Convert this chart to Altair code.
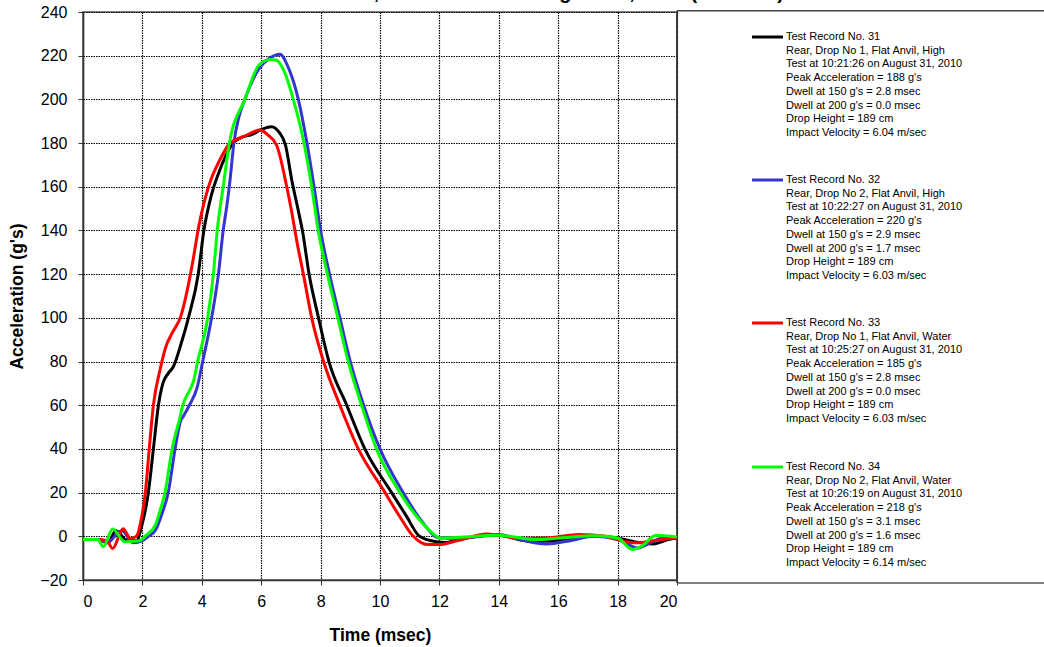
import altair as alt
import pandas as pd

# ---------------- data ----------------
t31 = [0, 0.5, 0.85, 1.1, 1.5, 1.8, 1.97, 2.2, 2.37, 2.54, 2.69, 2.87, 3.04, 3.3, 3.55, 3.88, 4.07, 4.3, 4.56,
       4.8, 5.05, 5.4, 5.7, 5.97, 6.35, 6.6, 6.82, 7.03, 7.25, 7.4, 7.6, 7.93, 8.28, 8.88, 9.49, 10.39, 10.9,
       11.33, 11.9, 12.2, 12.6, 14.0, 14.9, 15.6, 16.6, 17.4, 18.0, 18.5, 19.2, 19.7, 20.0]
a31 = [-1.5, -1.5, -3, 2.5, -2, -2, 4.4, 20, 40, 60, 70, 74.6, 77.6, 88, 100, 120, 140, 155, 166,
       174, 180, 182.9, 184, 186, 187.5, 185, 179, 163, 149, 139, 121, 100, 80, 60, 40, 20, 9,
       0, -2.5, -2.8, -1.5, 0.5, -2, -2.3, -0.5, 0, -0.8, -2.3, -3.5, -1.5, -0.8]

t32 = [0, 0.5, 0.8, 1.3, 1.7, 2.0, 2.2, 2.45, 2.65, 2.87, 3.1, 3.29, 3.38, 3.58, 3.84, 4.03, 4.33, 4.56, 4.72,
       4.84, 4.95, 5.08, 5.25, 5.45, 5.92, 6.3, 6.63, 6.9, 7.25, 7.54, 7.78, 8.0, 8.3, 8.65, 9.0, 9.45, 10.0,
       10.78, 11.4, 12.0, 12.6, 14.0, 14.7, 15.6, 16.4, 17.2, 18.0, 18.7, 19.1, 19.5, 20.0]
a32 = [-1.5, -1.5, -3, 2.5, -3, -2, 0, 3, 10, 20, 40, 53, 55, 60, 68, 80, 100, 120, 140,
       151, 163, 180, 192, 200, 214, 219, 220.7, 215, 200, 180, 160, 140, 120, 100, 80, 60, 40,
       20, 7, -0.8, -1, 0.8, -1.5, -3.5, -2, 0, -1.5, -5.3, -3, -0.8, -0.5]

t33 = [0, 0.5, 0.8, 1.0, 1.35, 1.6, 1.8, 1.95, 2.1, 2.23, 2.37, 2.59, 2.79, 3.0, 3.3, 3.5, 3.7, 3.9, 4.1,
       4.3, 4.56, 4.95, 5.4, 5.97, 6.2, 6.52, 6.86, 7.02, 7.2, 7.42, 7.7, 8.1, 8.65, 9.27, 10.17, 10.62,
       11.12, 11.6, 12.0, 12.6, 13.6, 14.0, 14.7, 15.6, 16.7, 17.6, 18.3, 18.7, 19.2, 20.0]
a33 = [-1.5, -1.5, -2, -5.6, 3.5, -1, 0, 7, 20, 40, 60, 76, 86.8, 93, 101, 112, 126, 142, 154,
       163, 171, 180, 182.9, 186, 184, 179, 160, 149, 135, 120, 100, 80, 60, 40, 20, 10,
       0, -3.8, -3.8, -2, 1, 0.5, -1, -0.8, 0.8, 0, -2.6, -3, -2, -0.5]

t34 = [0, 0.5, 0.68, 1.0, 1.4, 1.9, 2.13, 2.43, 2.6, 2.76, 3.0, 3.27, 3.36, 3.6, 3.72, 3.86, 4.2, 4.39, 4.52,
       4.72, 4.93, 5.45, 5.92, 6.3, 6.5, 6.8, 7.08, 7.44, 7.7, 7.92, 8.23, 8.58, 8.93, 9.38, 9.88, 10.67,
       11.3, 11.9, 12.0, 14.0, 15.3, 16.3, 17.2, 18.0, 18.5, 18.8, 19.3, 20.0]
a34 = [-1.5, -1.5, -4.8, 3.4, -2.5, -2, 0.5, 5, 12, 20, 40, 54.7, 60, 67, 71, 80, 100, 120, 140,
       160, 180, 200, 215.6, 218.3, 218, 212, 200, 180, 160, 140, 120, 100, 80, 60, 40, 20,
       8, 0, -0.8, 0.5, -1.5, -0.5, 0.3, -0.8, -6, -4.6, 0.5, -0.3]

records = ["31", "32", "33", "34"]
colors = ["#000000", "#3535D0", "#FF0000", "#00FF00"]

legend_lines = [
    ["Test Record No. 31", "Rear, Drop No 1, Flat Anvil, High", "Test at 10:21:26 on August 31, 2010",
     "Peak Acceleration = 188 g's", "Dwell at 150 g's = 2.8 msec", "Dwell at 200 g's = 0.0 msec",
     "Drop Height = 189 cm", "Impact Velocity = 6.04 m/sec"],
    ["Test Record No. 32", "Rear, Drop No 2, Flat Anvil, High", "Test at 10:22:27 on August 31, 2010",
     "Peak Acceleration = 220 g's", "Dwell at 150 g's = 2.9 msec", "Dwell at 200 g's = 1.7 msec",
     "Drop Height = 189 cm", "Impact Velocity = 6.03 m/sec"],
    ["Test Record No. 33", "Rear, Drop No 1, Flat Anvil, Water", "Test at 10:25:27 on August 31, 2010",
     "Peak Acceleration = 185 g's", "Dwell at 150 g's = 2.8 msec", "Dwell at 200 g's = 0.0 msec",
     "Drop Height = 189 cm", "Impact Velocity = 6.03 m/sec"],
    ["Test Record No. 34", "Rear, Drop No 2, Flat Anvil, Water", "Test at 10:26:19 on August 31, 2010",
     "Peak Acceleration = 218 g's", "Dwell at 150 g's = 3.1 msec", "Dwell at 200 g's = 1.6 msec",
     "Drop Height = 189 cm", "Impact Velocity = 6.14 m/sec"],
]

title_text = "Test Records 31 to 34, Rear Tested on August 31, 2010 (Ambient)"

x_ticks = list(range(0, 21, 2))
y_ticks = list(range(-20, 241, 20))

# ---------------- build table ----------------
rows = []
for rec, ts, vs in [("31", t31, a31), ("32", t32, a32), ("33", t33, a33), ("34", t34, a34)]:
    for t, v in zip(ts, vs):
        rows.append({"record": rec, "t": t, "a": v})
df = pd.DataFrame(rows)

W, H = 594, 568
FONT = "Liberation Sans"
RIGHT = 1000  # beyond the right edge of the picture, in plot coordinates

lines = alt.Chart(df).mark_line(strokeWidth=3, interpolate="monotone").encode(
    x=alt.X("t:Q", scale=alt.Scale(domain=[0, 20], nice=False),
            axis=alt.Axis(values=x_ticks, title="Time (msec)", titleY=55, titleBaseline="middle",
                          labelPadding=8)),
    y=alt.Y("a:Q", scale=alt.Scale(domain=[-20, 240], nice=False),
            axis=alt.Axis(values=y_ticks, title="Acceleration (g's)", titleX=-65.5, titleY=H / 2,
                          titleBaseline="middle", titleAngle=-90, labelPadding=11)),
    color=alt.Color("record:N", scale=alt.Scale(domain=records, range=colors), legend=None),
)

one_row = pd.DataFrame({"k": [0]})
box_top = alt.Chart(one_row).mark_rule(color="#444", strokeWidth=1.5).encode(
    x=alt.value(W), x2=alt.value(RIGHT), y=alt.value(-1.3)
)
box_bottom = alt.Chart(one_row).mark_rule(color="#555", strokeWidth=1.5).encode(
    x=alt.value(W), x2=alt.value(RIGHT), y=alt.value(571)
)
box_left = alt.Chart(one_row).mark_rule(color="#333", strokeWidth=1.5).encode(
    x=alt.value(W), y=alt.value(-1.3), y2=alt.value(571)
)

layers = [box_top, box_bottom, box_left, lines]
block_centers = [25, 168, 311, 455]
for i, (rec, col) in enumerate(zip(records, colors)):
    one = pd.DataFrame({"txt": ["\n".join(legend_lines[i])]})
    sw = alt.Chart(one).mark_rule(color=col, strokeWidth=3).encode(
        x=alt.value(669), x2=alt.value(700), y=alt.value(block_centers[i])
    )
    tx = alt.Chart(one).mark_text(align="left", baseline="top", font=FONT, fontSize=11,
                                  lineBreak="\n", lineHeight=13.7, color="black").encode(
        x=alt.value(703), y=alt.value(block_centers[i] - 6), text="txt:N"
    )
    layers += [sw, tx]

title = alt.Chart(pd.DataFrame({"txt": [title_text]})).mark_text(
    align="left", baseline="alphabetic", font=FONT, fontSize=20, fontWeight="bold", color="black"
).encode(x=alt.value(85.5), y=alt.value(-13.5), text="txt:N")
layers.append(title)

chart = alt.layer(*layers).properties(
    width=W, height=H, autosize="none", background="white",
    padding={"left": 83, "top": 12, "right": 1044 - 83 - W, "bottom": 647 - 12 - H},
).configure_view(stroke="#555", strokeWidth=1.5).configure_axis(
    labelFont=FONT, labelFontSize=16, labelColor="black",
    titleFont=FONT, titleFontSize=17.5, titleFontWeight="bold", titleColor="black",
    domainColor="#333", domainWidth=1.5, tickColor="#333", tickSize=5,
    gridColor="#000000", gridDash=[1.5, 1], gridWidth=1.2, gridOpacity=1,
)

chart.save("out.html", embed_options={"renderer": "svg", "actions": False})
